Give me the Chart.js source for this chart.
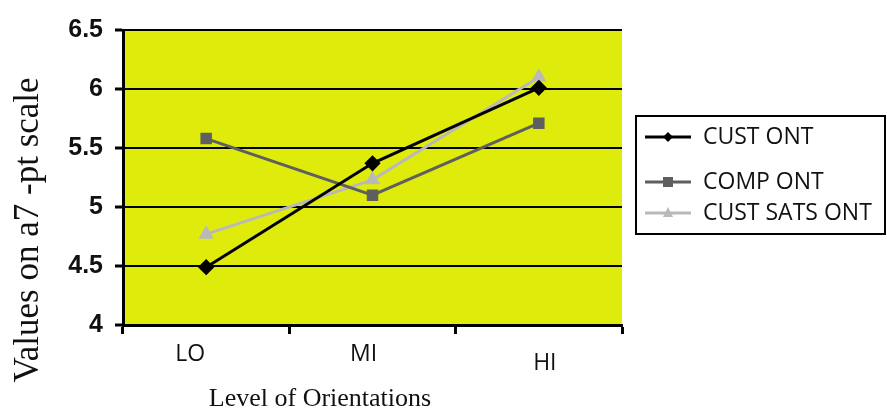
<!DOCTYPE html>
<html>
<head>
<meta charset="utf-8">
<script src="https://cdn.jsdelivr.net/npm/chart.js@4"></script>
<style>
  html, body { margin: 0; padding: 0; background: #fff; }
  #wrap { width: 887px; height: 414px; }
</style>
</head>
<body>
<div id="wrap"><canvas id="myChart" width="887" height="414"></canvas></div>
<script>
// categories and series
const levels = ['LO', 'MI', 'HI'];
const custOnt = [4.49, 5.37, 6.01];
const compOnt = [5.58, 5.10, 5.71];
const custSatsOnt = [4.77, 5.23, 6.10];
const yTicks = [4, 4.5, 5, 5.5, 6, 6.5];

const ctx = document.getElementById('myChart').getContext('2d');

// titles, category labels and boxed legend drawn by hand to match the original layout
const decorations = {
    id: 'decorations',
    afterDraw(chart) {
        const c = chart.ctx;
        c.save();
        // y title
        c.fillStyle = '#111';
        c.font = '35px "Liberation Serif", serif';
        c.textAlign = 'center';
        c.textBaseline = 'middle';
        c.translate(29, 230);
        c.rotate(-Math.PI / 2);
        c.fillText('Values on a7 -pt scale', 0, 0);
        c.restore();

        c.save();
        c.fillStyle = '#111';
        c.font = '26px "Liberation Serif", serif';
        c.textAlign = 'center';
        c.textBaseline = 'middle';
        c.fillText('Level of Orientations', 320, 399);

        // category labels (the original has them slightly off-centre)
        const xs = chart.scales.x;
        const shift = [[-16, 354], [-9, 354], [6, 363]];
        c.font = '23px "Open Sans", sans-serif';
        levels.forEach((lab, i) => {
            c.fillText(lab, xs.getPixelForValue(i) + shift[i][0], shift[i][1]);
        });

        // legend box
        c.strokeStyle = '#000';
        c.lineWidth = 2;
        c.strokeRect(636, 116, 249, 118);
        const rows = [137, 182, 213];
        chart.data.datasets.forEach((ds, i) => {
            const y = rows[i];
            c.strokeStyle = ds.borderColor;
            c.lineWidth = 3;
            c.beginPath();
            c.moveTo(645, y);
            c.lineTo(691, y);
            c.stroke();
            c.fillStyle = ds.borderColor;
            c.beginPath();
            if (ds.pointStyle === 'rectRot') {
                c.moveTo(668, y - 5); c.lineTo(673, y); c.lineTo(668, y + 5); c.lineTo(663, y);
            } else if (ds.pointStyle === 'rect') {
                c.rect(663, y - 5, 10, 10);
            } else {
                c.moveTo(668, y - 6); c.lineTo(673, y + 4); c.lineTo(663, y + 4);
            }
            c.closePath();
            c.fill();
            c.fillStyle = '#111';
            c.font = '23px "Open Sans", sans-serif';
            c.textAlign = 'left';
            c.fillText(ds.label, 703, y);
        });
        c.restore();
    }
};

const plotBg = {
    id: 'plotBg',
    beforeDraw(chart) {
        const a = chart.chartArea;
        chart.ctx.save();
        chart.ctx.fillStyle = '#dfec0b';
        chart.ctx.fillRect(a.left, a.top, a.right - a.left, a.bottom - a.top);
        chart.ctx.restore();
    }
};

const myChart = new Chart(ctx, {
    type: 'line',
    data: {
        labels: levels,
        datasets: [
            {
                label: 'CUST ONT',
                data: custOnt,
                borderColor: '#000000',
                backgroundColor: '#000000',
                borderWidth: 3,
                pointStyle: 'rectRot',
                pointRadius: 6,
                tension: 0
            },
            {
                label: 'COMP ONT',
                data: compOnt,
                borderColor: '#5f5f5f',
                backgroundColor: '#5f5f5f',
                borderWidth: 3,
                pointStyle: 'rect',
                pointRadius: 6,
                tension: 0
            },
            {
                label: 'CUST SATS ONT',
                data: custSatsOnt,
                borderColor: '#b9b9b9',
                backgroundColor: '#b9b9b9',
                borderWidth: 3,
                pointStyle: 'triangle',
                pointRadius: 6,
                tension: 0
            }
        ]
    },
    options: {
        responsive: false,
        animation: false,
        layout: {
            padding: { left: 0, right: 265, top: 30, bottom: 0 }
        },
        scales: {
            x: {
                offset: true,
                grid: {
                    offset: true,
                    drawOnChartArea: false,
                    drawTicks: true,
                    tickLength: 9,
                    tickWidth: 3,
                    tickColor: '#000'
                },
                border: { color: '#000', width: 3 },
                ticks: { display: false },
                afterFit(scale) { scale.height = 89; }
            },
            y: {
                min: 4,
                max: 6.5,
                afterBuildTicks(scale) {
                    scale.ticks = yTicks.map(v => ({ value: v }));
                },
                grid: {
                    color: '#000',
                    lineWidth: 2,
                    drawTicks: true,
                    tickLength: 8,
                    tickWidth: 3
                },
                border: { color: '#000', width: 3 },
                ticks: {
                    color: '#111',
                    padding: 12,
                    font: { family: '"Liberation Sans", Arial, sans-serif', size: 25, weight: 'bold' },
                    callback: v => String(v)
                },
                afterFit(scale) { scale.width = 123; }
            }
        },
        plugins: {
            legend: { display: false },
            tooltip: { enabled: false }
        }
    },
    plugins: [plotBg, decorations]
});
</script>
</body>
</html>
